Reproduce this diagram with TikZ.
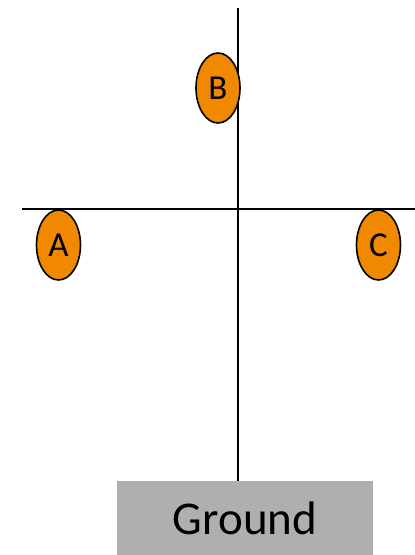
\documentclass[tikz,border=0pt]{standalone}
\usepackage{fontspec}
\setmainfont{Carlito}
\usetikzlibrary{shapes.geometric}
\definecolor{ballorange}{RGB}{240,136,0}
\definecolor{groundgray}{RGB}{175,175,175}

\begin{document}
\begin{tikzpicture}[x=1pt, y=-1pt,
    ball/.style={ellipse, draw=black, line width=1.6pt, fill=ballorange,
      minimum width=44pt, minimum height=70pt, inner sep=0pt,
      font=\fontsize{35}{35}\selectfont},
    axis/.style={black, line width=2.2pt}]
  \useasboundingbox (0,0) rectangle (415,555);

  % --- ground block ---
  \node[fill=groundgray, minimum width=256pt, minimum height=74pt, inner sep=0pt,
        font=\fontsize{47}{47}\selectfont] (ground) at (245,518) {Ground};

  % --- cross of lines ---
  \coordinate (vtop) at (238,8);
  \coordinate (hleft) at (22,209);
  \coordinate (hright) at (415,209);
  \draw[axis] (vtop) -- (vtop |- ground.north);
  \draw[axis] (hleft) -- (hright);

  % --- balls ---
  \node[ball] (B) at (218,88) {B};
  \node[ball] (A) at (58.5,245) {A};
  \node[ball] (C) at (378.5,245) {C};
\end{tikzpicture}
\end{document}
